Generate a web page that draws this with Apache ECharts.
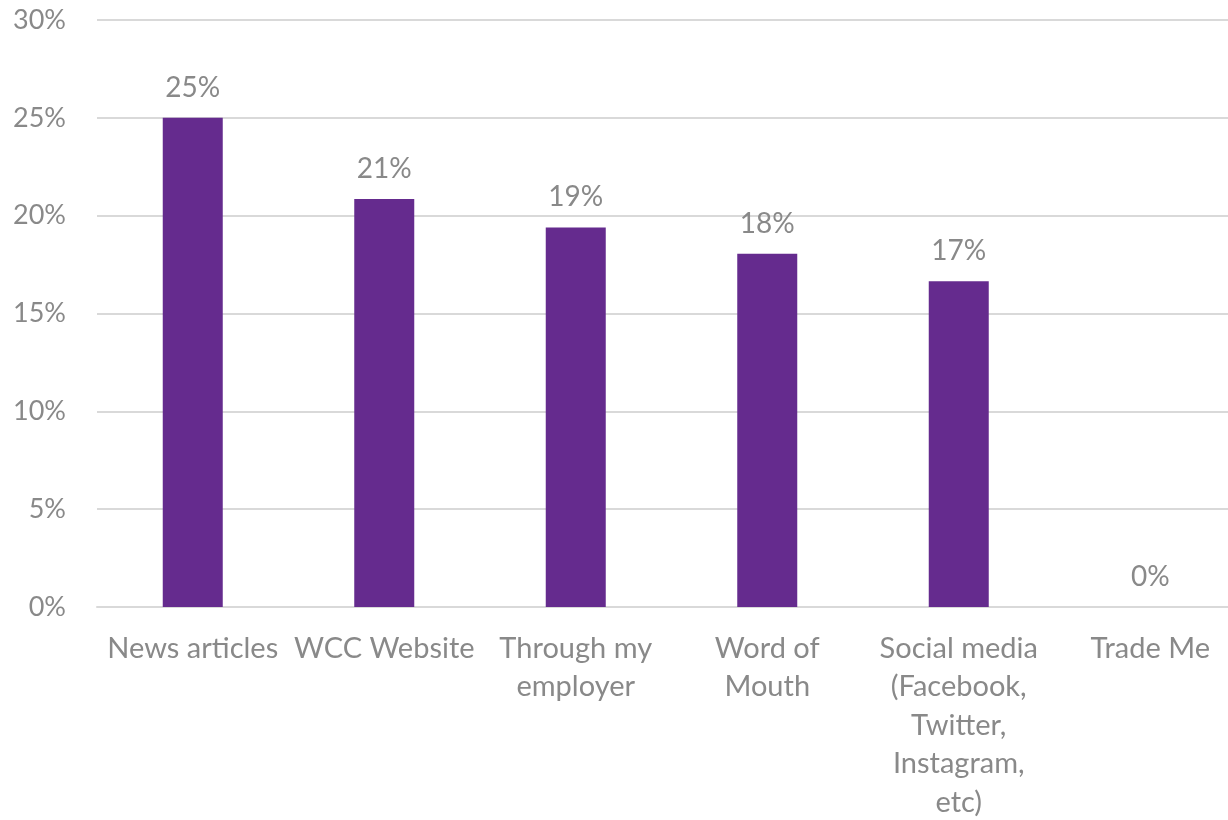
<!DOCTYPE html>
<html>
<head>
<meta charset="utf-8">
<script src="https://cdn.jsdelivr.net/npm/echarts@6/dist/echarts.min.js"></script>
<style>
    html, body { margin: 0; padding: 0; background: #fff; }
    #chart { width: 1228px; height: 820px; }
</style>
</head>
<body>
<div id="chart"></div>
<script>
    const categories = [
        'News articles',
        'WCC Website',
        'Through my\nemployer',
        'Word of\nMouth',
        'Social media\n(Facebook,\nTwitter,\nInstagram,\netc)',
        'Trade Me'
    ];
    const shares = [25.0, 20.85, 19.4, 18.05, 16.65, 0];
    const yTicks = [0, 5, 10, 15, 20, 25, 30];

    const textGrey = '#898989';
    const font = 'Lato, "Open Sans", sans-serif';

    const chart = echarts.init(document.getElementById('chart'));
    chart.setOption({
        animation: false,
        // plot area runs past the right edge, as in the cropped original
        grid: {
            left: 97, right: -18, top: 20, bottom: 213,
            containLabel: false,
            outerBoundsMode: 'none'
        },
        xAxis: {
            type: 'category',
            data: categories,
            axisLine: { lineStyle: { color: '#d9d9d9', width: 2 } },
            axisTick: { show: false },
            axisLabel: {
                color: textGrey,
                fontFamily: font,
                fontSize: 29,
                lineHeight: 38.6,
                margin: 22,
                interval: 0
            }
        },
        yAxis: {
            type: 'value',
            min: yTicks[0],
            max: yTicks[yTicks.length - 1],
            interval: 5,
            axisLine: { show: false },
            axisTick: { show: false },
            splitLine: { lineStyle: { color: '#d9d9d9', width: 2 } },
            axisLabel: {
                color: textGrey,
                fontFamily: font,
                fontSize: 27,
                margin: 31,
                formatter: v => v + '%'
            }
        },
        series: [{
            type: 'bar',
            data: shares,
            barWidth: 60,
            itemStyle: { color: '#652b8e' },
            label: {
                show: true,
                position: 'top',
                distance: 16,
                color: textGrey,
                fontFamily: font,
                fontSize: 28,
                formatter: p => Math.round(p.value) + '%'
            }
        }]
    });
</script>
</body>
</html>
